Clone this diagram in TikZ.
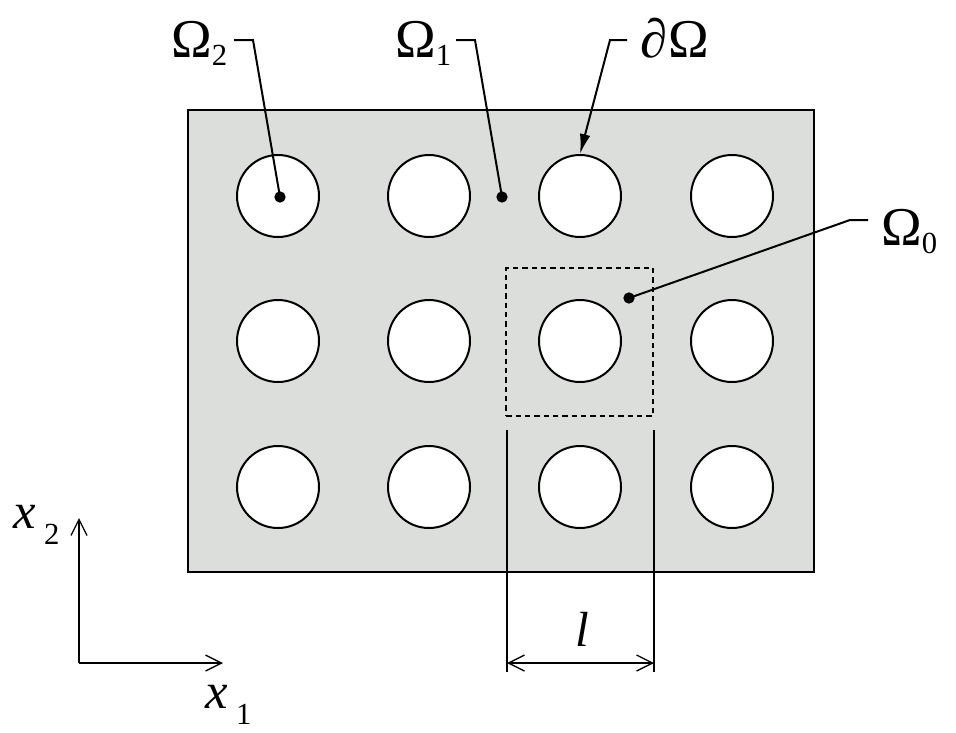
\documentclass[tikz,border=0pt]{standalone}
\usepackage{fontspec}
\setmainfont{Liberation Serif}
\usetikzlibrary{arrows.meta}
\definecolor{plate}{RGB}{220,222,220}
\newcommand\mysub[2][-6pt]{\raisebox{#1}{\fontsize{23}{23}\selectfont #2}}
\tikzset{
  hole/.style={circle,draw,line width=1.5pt,fill=white,minimum size=61.5pt,inner sep=0pt},
  dotm/.style={circle,fill=black,minimum size=8.5pt,inner sep=0pt},
  lab/.style={inner sep=0pt,font=\fontsize{41}{44}\selectfont},
  lead/.style={line width=1.5pt},
  barb/.style={-{Straight Barb[length=12pt,width=12pt,line width=1pt]}},
}
\begin{document}
\begin{tikzpicture}[x=0.75pt,y=-0.75pt]
\useasboundingbox (0,0) rectangle (956,732);
% plate
\draw[line width=1.5pt,fill=plate] (188,110) rectangle (814,572);
% holes
\foreach \i/\x in {1/278,2/429,3/580,4/732}{
  \foreach \j/\y in {1/196,2/341,3/487}{
    \node[hole] (c\j\i) at (\x,\y) {};
  }
}
% unit cell
\node[draw,line width=1.2pt,dash pattern=on 4pt off 3pt,minimum width=110pt,minimum height=111pt,inner sep=0pt] (cell) at (579.5,342) {};
% dots
\node[dotm] (d2) at (280,197) {};
\node[dotm] (d1) at (502,197) {};
\node[dotm] (d0) at (629,298) {};
% labels
\node[lab,anchor=base west] (L2) at (171,57) {Ω\mysub{2}};
\node[lab,anchor=base west] (L1) at (395,57) {Ω\mysub{1}};
\node[lab,anchor=base west] (Lb) at (640,57) {∂\kern1pt Ω};
\node[lab,anchor=base west] (L0) at (881,245) {Ω\mysub{0}};
% leaders
\coordinate (t2a) at (234,40); \coordinate (t2b) at (253,40);
\draw[lead] (t2a) -- (t2b) -- (d2.center);
\coordinate (t1a) at (456,40); \coordinate (t1b) at (475,40);
\draw[lead] (t1a) -- (t1b) -- (d1.center);
\coordinate (tba) at (627,40); \coordinate (tbb) at (610,40);
\draw[lead,-{Latex[length=15pt,width=8pt]}] (tba) -- (tbb) -- (c13.north);
\coordinate (t0a) at (868,220); \coordinate (t0b) at (850,220);
\draw[lead] (t0a) -- (t0b) -- (d0.center);
% dimension
\coordinate (e1a) at (507,430); \coordinate (e1b) at (507,672);
\coordinate (e2a) at (654,430); \coordinate (e2b) at (654,672);
\draw[lead] (e1a) -- (e1b);
\draw[lead] (e2a) -- (e2b);
\coordinate (m1) at (507,663); \coordinate (m2) at (654,663);
\draw[line width=1.5pt,{Straight Barb[length=12pt,width=12pt,line width=1pt]}-{Straight Barb[length=12pt,width=12pt,line width=1pt]}] (m1) -- (m2);
\node[lab,anchor=base] (Ll) at (582,646) {\fontsize{37}{40}\selectfont\itshape l};
% axes
\coordinate (O) at (79,663);
\coordinate (X1) at (223,663);
\coordinate (X2) at (79,518);
\draw[line width=1.3pt,barb] (O) -- (X1);
\draw[line width=1.3pt,barb] (O) -- (X2);
\node[lab,anchor=base west] (Lx2) at (13,528) {\fontsize{38}{40}\selectfont\itshape x\,\upshape\mysub[-12pt]{2}};
\node[lab,anchor=base west] (Lx1) at (205,708) {\fontsize{38}{40}\selectfont\itshape x\,\upshape\mysub[-12pt]{1}};
\end{tikzpicture}
\end{document}
